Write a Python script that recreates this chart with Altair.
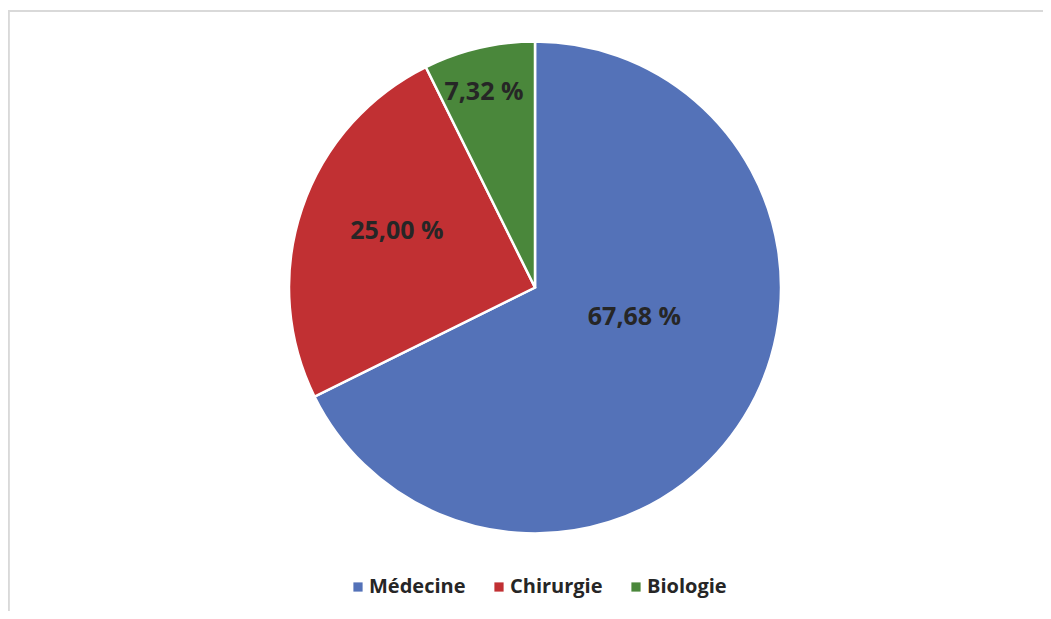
import altair as alt
import pandas as pd
import math

categories = ["Médecine", "Chirurgie", "Biologie"]
values = [67.68, 25.00, 7.32]
colors = ["#5472B8", "#C13033", "#4A873B"]

labels = [f"{v:.2f}".replace(".", ",") + " %" for v in values]
df = pd.DataFrame({
    "cat": categories,
    "value": values,
    "label": labels,
    "order": list(range(len(categories))),
})

W, H = 1035, 603
CX, CY = 527, 279.5
R = 246

arcs = alt.Chart(df).mark_arc(outerRadius=R, stroke="white", strokeWidth=2.5).encode(
    theta=alt.Theta("value:Q", stack=True),
    order=alt.Order("order:Q"),
    x=alt.value(CX),
    y=alt.value(CY),
    color=alt.Color(
        "cat:N",
        scale=alt.Scale(domain=categories, range=colors),
        sort=categories,
        legend=alt.Legend(
            title=None,
            orient="none",
            legendX=340,
            legendY=569,
            direction="horizontal",
            symbolType="square",
            symbolSize=85,
            symbolStrokeWidth=0,
            labelFontSize=20,
            labelFont="Open Sans",
            labelFontWeight="bold",
            labelColor="#262626",
            labelOffset=1,
            columnPadding=23,
            padding=0,
        ),
    ),
)

text_style = dict(font="Open Sans", fontSize=25, fontWeight="bold", color="#262626",
                  align="center", baseline="middle")

text_base = alt.Chart(df).transform_window(
    cum="sum(value)", sort=[alt.SortField("order")]
).transform_calculate(
    mid="datum.cum - datum.value / 2"
).encode(
    theta=alt.Theta("mid:Q", stack=None,
                    scale=alt.Scale(domain=[0, 100], range=[0, 2 * math.pi])),
    x=alt.value(CX),
    y=alt.value(CY),
    text="label:N",
)

t_med = text_base.mark_text(radius=110, dx=6, dy=-29, **text_style).transform_filter(
    alt.datum.cat == "Médecine")
t_chi = text_base.mark_text(radius=150, dx=4, dy=-9, **text_style).transform_filter(
    alt.datum.cat == "Chirurgie")
t_bio = text_base.mark_text(radius=202, dx=-5, dy=1, **text_style).transform_filter(
    alt.datum.cat == "Biologie")

border_top = alt.Chart(df).mark_rule(color="#D9D9D9", strokeWidth=2).encode(
    x=alt.value(0), x2=alt.value(W), y=alt.value(3))
border_left = alt.Chart(df).mark_rule(color="#D9D9D9", strokeWidth=2).encode(
    x=alt.value(0.5), y=alt.value(2), y2=alt.value(H))

chart = alt.layer(border_top, border_left, arcs, t_med, t_chi, t_bio).properties(
    width=W, height=H,
    autosize=alt.AutoSizeParams(type="none"),
    padding=0,
).configure_view(stroke=None)

chart.save("out.html", embed_options={"renderer": "svg", "actions": False})
